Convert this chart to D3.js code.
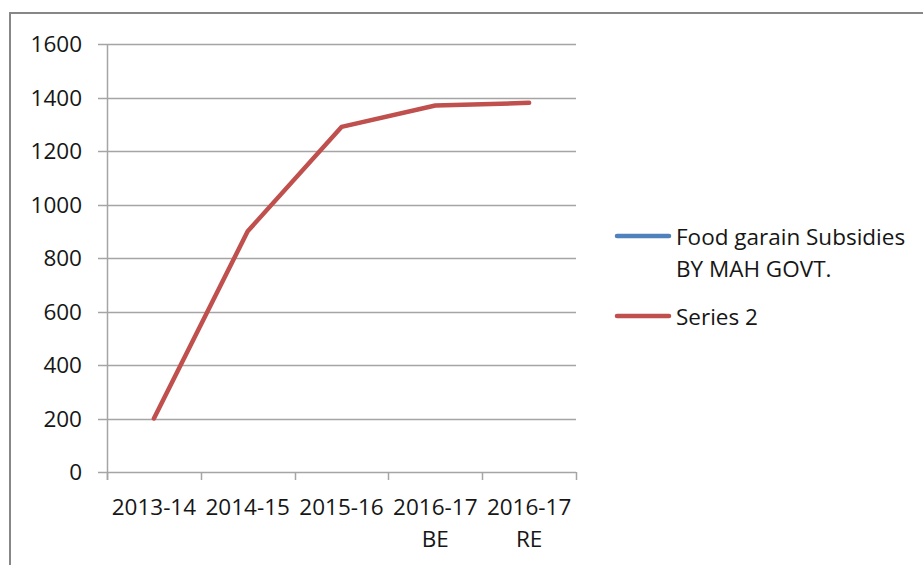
<!DOCTYPE html>
<html>
<head>
<meta charset="utf-8">
<script src="https://cdn.jsdelivr.net/npm/d3@7"></script>
<style>
  html, body { margin: 0; padding: 0; background: #fff; }
  svg { display: block; }
  text { font-family: "Open Sans", "Liberation Sans", sans-serif; fill: #161616; }
</style>
</head>
<body>
<svg id="chart" width="923" height="565"></svg>
<script>
// ---- data ----
const categories = [["2013-14"], ["2014-15"], ["2015-16"], ["2016-17", "BE"], ["2016-17", "RE"]];
const series1Name = ["Food garain Subsidies", "BY MAH GOVT."];
const series1Values = [200, 900, 1290, 1370, 1380];
const series2Name = ["Series 2"];
const series2Values = [200, 900, 1290, 1370, 1380];
const yTicks = [0, 200, 400, 600, 800, 1000, 1200, 1400, 1600];

// ---- layout ----
const svg = d3.select("#chart");
const plotL = 107, plotR = 576, plotT = 44, plotB = 472;
const fontSize = 22.5;

// frame
svg.append("rect")
  .attr("x", 10).attr("y", 13)
  .attr("width", 1000).attr("height", 700)
  .attr("fill", "none").attr("stroke", "#878787").attr("stroke-width", 2);

const keys = categories.map(c => c.join(" "));
const x = d3.scaleBand().domain(keys).range([plotL, plotR]).padding(0);
const y = d3.scaleLinear().domain([0, 1600]).range([plotB, plotT]);

// gridlines + y labels
const gridColor = "#a5a5a5";
const g = svg.append("g");
g.selectAll("line.grid").data(yTicks).join("line")
  .attr("class", "grid")
  .attr("x1", plotL - 9).attr("x2", plotR)
  .attr("y1", d => Math.round(y(d)) + 0.5).attr("y2", d => Math.round(y(d)) + 0.5)
  .attr("stroke", gridColor).attr("stroke-width", 1.5);
g.selectAll("text.ylab").data(yTicks).join("text")
  .attr("class", "ylab")
  .attr("x", 82).attr("y", d => y(d))
  .attr("dy", "0.36em")
  .attr("text-anchor", "end")
  .attr("font-size", fontSize)
  .text(d => d);

// y axis line
svg.append("line")
  .attr("x1", plotL + 0.5).attr("x2", plotL + 0.5)
  .attr("y1", plotT).attr("y2", plotB + 8)
  .attr("stroke", gridColor).attr("stroke-width", 1.5);

// x axis ticks (band boundaries)
const boundaries = keys.map(k => x(k)).concat([x(keys[keys.length - 1]) + x.bandwidth()]);
svg.selectAll("line.xtick").data(boundaries).join("line")
  .attr("class", "xtick")
  .attr("x1", d => Math.round(d) + 0.5).attr("x2", d => Math.round(d) + 0.5)
  .attr("y1", plotB).attr("y2", plotB + 8)
  .attr("stroke", gridColor).attr("stroke-width", 1.5);

// x labels
const xl = svg.selectAll("text.xlab").data(categories).join("text")
  .attr("class", "xlab")
  .attr("text-anchor", "middle")
  .attr("font-size", fontSize);
xl.each(function(d) {
  const t = d3.select(this);
  const cx = x(d.join(" ")) + x.bandwidth() / 2;
  d.forEach((line, i) => {
    t.append("tspan").attr("x", cx).attr("y", 515 + i * 32).text(line);
  });
});

// lines (series 1 sits directly beneath series 2)
const line = d3.line()
  .x((d, i) => x(keys[i]) + x.bandwidth() / 2)
  .y(d => y(d));
svg.append("path").datum(series1Values)
  .attr("d", line).attr("fill", "none")
  .attr("stroke", "#4f81bd").attr("stroke-width", 3)
  .attr("stroke-linejoin", "round").attr("stroke-linecap", "round");
svg.append("path").datum(series2Values)
  .attr("d", line).attr("fill", "none")
  .attr("stroke", "#c0504d").attr("stroke-width", 4.5)
  .attr("stroke-linejoin", "round").attr("stroke-linecap", "round");

// legend
const legend = [
  { name: series1Name, color: "#4f81bd", y: 236 },
  { name: series2Name, color: "#c0504d", y: 316 }
];
const lg = svg.selectAll("g.leg").data(legend).join("g").attr("class", "leg");
lg.append("line")
  .attr("x1", 617).attr("x2", 669)
  .attr("y1", d => d.y).attr("y2", d => d.y)
  .attr("stroke", d => d.color).attr("stroke-width", 4.5)
  .attr("stroke-linecap", "round");
lg.append("text")
  .attr("font-size", fontSize)
  .each(function(d) {
    const t = d3.select(this);
    d.name.forEach((s, i) => {
      t.append("tspan").attr("x", 676).attr("y", d.y + 9 + i * 31.5).text(s);
    });
  });
</script>
</body>
</html>
